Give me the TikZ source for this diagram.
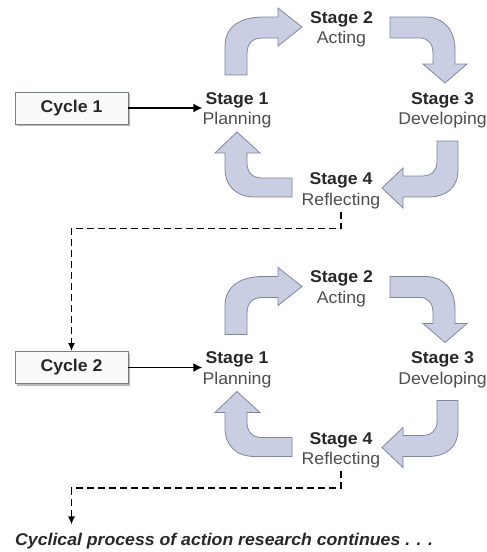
\documentclass[tikz,border=0pt]{standalone}
\usepackage{fontspec}
\setmainfont{Liberation Sans}[FakeStretch=1.04]
\usetikzlibrary{calc,shadows,arrows.meta}

\definecolor{arrowfill}{RGB}{201,206,226}
\definecolor{arrowline}{RGB}{128,134,160}
\definecolor{stagehead}{RGB}{40,40,40}
\definecolor{stagesub}{RGB}{78,78,78}
\definecolor{boxline}{RGB}{125,125,125}
\definecolor{boxfill}{RGB}{249,250,252}
\definecolor{boxshadow}{RGB}{185,185,185}

\tikzset{
  stagelabel/.style={align=center, inner sep=0pt, font=\fontsize{17}{20.5}\selectfont},
  cyclebox/.style={draw=boxline, line width=0.9pt, fill=boxfill,
    minimum width=113pt, minimum height=32pt, inner sep=0pt,
    font=\fontsize{17}{20}\selectfont\bfseries, text=stagehead,
    drop shadow={shadow xshift=2pt, shadow yshift=-2pt, fill=boxshadow, opacity=1}},
  bigarrow/.style={fill=arrowfill, draw=arrowline, line width=0.8pt, line join=miter},
  feed/.style={line width=1.6pt, -{Latex[length=9pt,width=9pt]}},
  handover/.style={line width=1.6pt, dash pattern=on 7pt off 4pt, -{Latex[length=8pt,width=7pt]}},
  % one planning-acting-developing-reflecting loop with its entry box
  cycle/.pic={
    \node[cyclebox] (-box) at (71.5,108) {Cycle #1};
    \node[stagelabel] (-s1) at (237,110.3)
      {\textcolor{stagehead}{\bfseries Stage 1}\\\textcolor{stagesub}{Planning}};
    \node[stagelabel] (-s2) at (341.5,29.3)
      {\textcolor{stagehead}{\bfseries Stage 2}\\\textcolor{stagesub}{Acting}};
    \node[stagelabel] (-s3) at (442.5,110.3)
      {\textcolor{stagehead}{\bfseries Stage 3}\\\textcolor{stagesub}{Developing}};
    \node[stagelabel] (-s4) at (341,190.8)
      {\textcolor{stagehead}{\bfseries Stage 4}\\\textcolor{stagesub}{Reflecting}};
    \draw[feed] (-box.east) -- (-box.east -| -s1.west);
    % curved block arrows between the stages
    \draw[bigarrow] (225,75) -- (225,46) .. controls (225,27) and (240,17) .. (263,17)
      -- (278,17) -- (278,8) -- (302,27) -- (278,46) -- (278,38) -- (262,38)
      .. controls (252,38) and (247,44) .. (247,54) -- (247,75) -- cycle;
    \draw[bigarrow] (390,17) -- (425,17) .. controls (444,17) and (455,30) .. (455,50)
      -- (455,64) -- (467,64) -- (445,83) -- (423,64) -- (433,64) -- (433,53)
      .. controls (433,44) and (428,38) .. (420,38) -- (390,38) -- cycle;
    \draw[bigarrow] (437,141) -- (458,141) -- (458,170) .. controls (458,187) and (447,197) .. (428,197)
      -- (403,197) -- (403,208) -- (382,188) -- (403,168) -- (403,176) -- (422,176)
      .. controls (432,176) and (437,170) .. (437,162) -- cycle;
    \draw[bigarrow] (292,178) -- (262,178) .. controls (252,178) and (247,172) .. (247,163)
      -- (247,153) -- (260,153) -- (237,132) -- (215,153) -- (225,153) -- (225,168)
      .. controls (225,186) and (236,197) .. (255,197) -- (292,197) -- cycle;
  }
}

\begin{document}
\begin{tikzpicture}[x=1pt,y=-1pt]
  \path[use as bounding box, fill=white] (0,0) rectangle (487,552);

  \pic (A) at (0,0) {cycle=1};
  \pic (B) at (0,259.5) {cycle=2};

  \node[anchor=base west, inner sep=0pt, font=\fontsize{17}{20}\selectfont\bfseries\itshape,
        text=stagehead] (note) at (15,545) {Cyclical process of action research continues . . .};
  \coordinate (next) at ($(B-box |- note.north)+(0,-8)$);

  % hand-over from one loop to the next
  \draw[handover] ($(A-s4.south)+(0,3)$) -- ($(A-s4.south)+(0,19.5)$) -| (B-box.north);
  \draw[handover] ($(B-s4.south)+(0,3)$) -- ($(B-s4.south)+(0,19.5)$) -| (next);
\end{tikzpicture}
\end{document}
